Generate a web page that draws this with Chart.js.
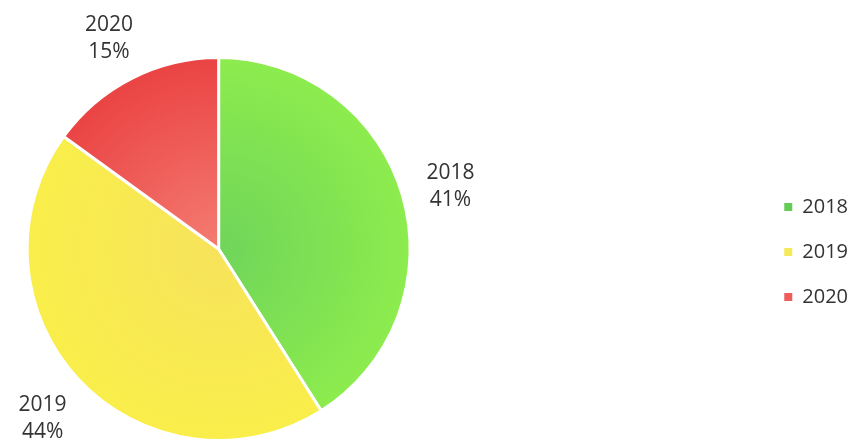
<!DOCTYPE html>
<html>
<head>
<meta charset="utf-8">
<script src="https://cdn.jsdelivr.net/npm/chart.js@4"></script>
<style>
  html, body { margin: 0; padding: 0; background: #fff; }
  #wrap { width: 853px; height: 442px; position: relative; }
</style>
</head>
<body>
<div id="wrap"><canvas id="pie-chart"></canvas></div>
<script>
const years = ['2018', '2019', '2020']
const shares = [41, 44, 15]
const percentLabels = ['41%', '44%', '15%']

// inner / outer colours of each slice
const innerColors = ['#6fd55a', '#f7e35c', '#f47c72']
const outerColors = ['#8dec4d', '#f9ee4a', '#ea4343']
const legendColors = ['#66cc55', '#f5ea5a', '#ef5c5c']

const sliceFill = (context) => {
  const chart = context.chart
  const area = chart.chartArea
  if (!area) return legendColors[context.dataIndex]
  const cx = (area.left + area.right) / 2
  const cy = (area.top + area.bottom) / 2
  const r = Math.min(area.right - area.left, area.bottom - area.top) / 2
  const g = chart.ctx.createRadialGradient(cx, cy, 0, cx, cy, r)
  g.addColorStop(0, innerColors[context.dataIndex])
  g.addColorStop(1, outerColors[context.dataIndex])
  return g
}

// legend sits far to the right, away from the pie
const moveLegend = {
  id: 'moveLegend',
  afterLayout (chart) {
    const lg = chart.legend
    const dx = chart.width - lg.right + 5
    lg.left += dx
    lg.right += dx
    lg.top += 3
    lg.bottom += 3
  }
}

const outsideLabels = {
  id: 'outsideLabels',
  afterDatasetsDraw (chart) {
    const ctx = chart.ctx
    const meta = chart.getDatasetMeta(0)
    ctx.save()
    ctx.font = '21px "Open Sans", sans-serif'
    ctx.fillStyle = '#333333'
    ctx.textAlign = 'center'
    ctx.textBaseline = 'middle'
    meta.data.forEach((arc, i) => {
      const mid = (arc.startAngle + arc.endAngle) / 2
      const dist = arc.outerRadius + 50
      const x = arc.x + Math.cos(mid) * dist
      const y = arc.y + Math.sin(mid) * dist + 4
      ctx.fillText(years[i], x, y - 13)
      ctx.fillText(percentLabels[i], x, y + 14)
    })
    ctx.restore()
  }
}

new Chart(document.getElementById('pie-chart'), {
  type: 'pie',
  data: {
    labels: years,
    datasets: [{
      data: shares,
      backgroundColor: sliceFill,
      borderColor: '#ffffff',
      borderWidth: 3
    }]
  },
  options: {
    responsive: true,
    maintainAspectRatio: false,
    animation: false,
    layout: {
      padding: { top: 56, bottom: 0, left: 25, right: 342 }
    },
    plugins: {
      legend: {
        position: 'right',
        labels: {
          boxWidth: 8,
          boxHeight: 8,
          padding: 25,
          color: '#333333',
          font: { family: '"Open Sans", sans-serif', size: 20 },
          generateLabels: (chart) => years.map((y, i) => ({
            text: y,
            fillStyle: legendColors[i],
            strokeStyle: legendColors[i],
            lineWidth: 0,
            fontColor: '#333333',
            index: i
          }))
        }
      },
      tooltip: { enabled: false }
    }
  },
  plugins: [moveLegend, outsideLabels]
})
</script>
</body>
</html>
